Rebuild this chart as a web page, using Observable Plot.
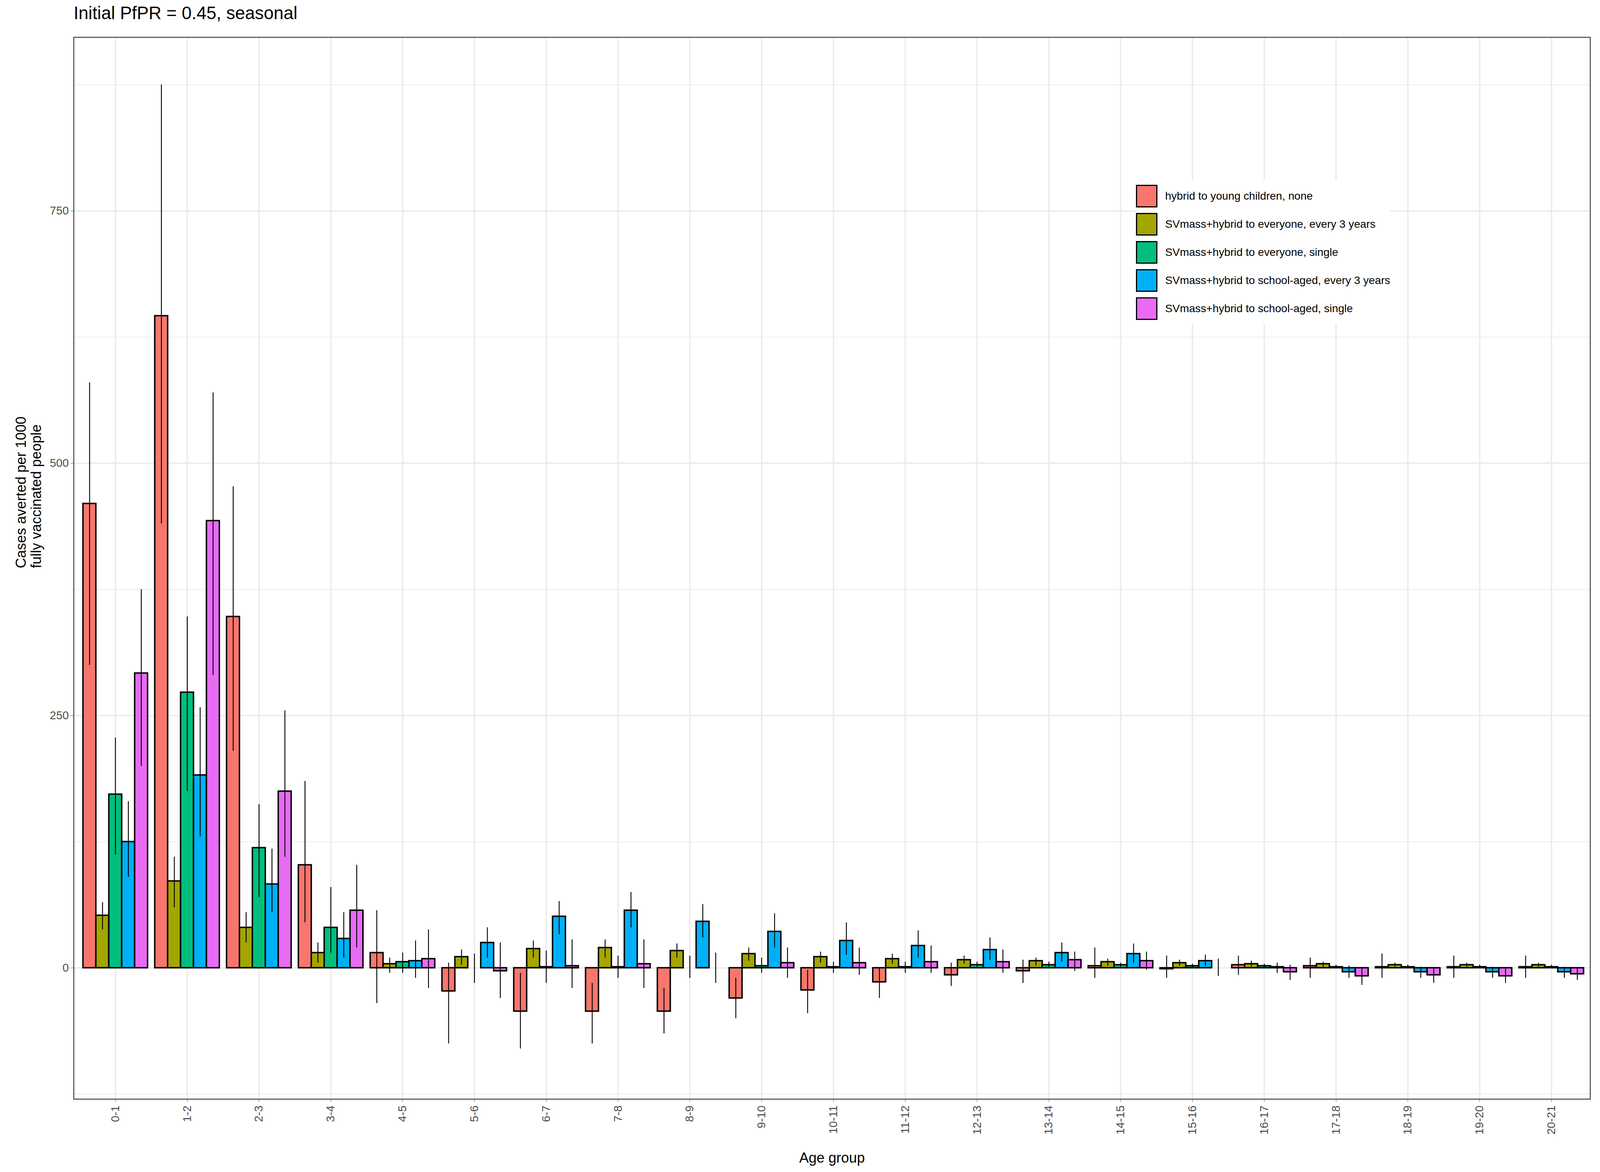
<!DOCTYPE html>
<html>
<head>
<meta charset="utf-8">
<script src="https://cdn.jsdelivr.net/npm/d3@7"></script>
<script src="https://cdn.jsdelivr.net/npm/@observablehq/plot@0.6"></script>
<style>
html, body {margin: 0; background: white; font-family: "Liberation Sans", Arial, sans-serif; overflow: hidden;}
#wrap {position: relative;}
#title {position: absolute;}
#chart {position: absolute; left: 0;}
#legend {position: absolute; background: white;}
.item {display: flex; align-items: center;}
.sw {border-style: solid; border-color: black; box-sizing: border-box;}
</style>
</head>
<body>
<div id="wrap">
<div id="title">Initial PfPR = 0.45, seasonal</div>
<div id="chart"></div>
<div id="legend"></div>
</div>
<script>
// data
const ages = ['0-1','1-2','2-3','3-4','4-5','5-6','6-7','7-8','8-9','9-10','10-11','11-12','12-13','13-14','14-15','15-16','16-17','17-18','18-19','19-20','20-21'];
const series = [
	'hybrid to young children, none',
	'SVmass+hybrid to everyone, every 3 years',
	'SVmass+hybrid to everyone, single',
	'SVmass+hybrid to school-aged, every 3 years',
	'SVmass+hybrid to school-aged, single'
];
const colors = ['#F8766D', '#A3A500', '#00BF7D', '#00B0F6', '#E76BF3'];

// [value, low, high] per age group
const young = [[460,300,580],[646,440,875],[348,215,477],[102,45,185],[15,-35,57],[-23,-75,5],[-43,-80,-5],[-43,-75,-15],[-43,-65,-20],[-30,-50,-10],[-22,-45,-2],[-14,-30,0],[-7,-18,5],[-3,-15,8],[2,-10,20],[-1,-10,12],[3,-7,12],[2,-10,10],[1,-10,14],[1,-10,12],[1,-10,12]];
const every3 = [[52,38,65],[86,60,110],[40,25,55],[15,5,25],[4,-5,10],[11,3,18],[19,10,27],[20,10,28],[17,10,24],[14,7,20],[11,5,16],[9,4,14],[8,4,12],[7,2,10],[6,2,9],[5,2,8],[4,1,7],[4,1,6],[3,1,5],[3,1,5],[3,1,5]];
const everySingle = [[172,112,228],[273,175,348],[119,70,162],[40,15,80],[6,-5,15],[0,-15,14],[1,-15,17],[1,-10,12],[0,-10,12],[2,-5,10],[1,-5,6],[1,-5,6],[3,0,6],[3,0,6],[3,0,5],[2,0,4],[2,0,4],[1,0,3],[1,0,3],[1,0,3],[1,0,3]];
const school3 = [[125,90,165],[191,130,258],[83,55,118],[29,10,55],[7,-10,27],[25,10,40],[51,33,66],[57,40,75],[46,30,63],[36,20,54],[27,13,45],[22,10,37],[18,8,30],[15,6,25],[14,5,24],[7,2,13],[1,-5,5],[-4,-10,2],[-4,-10,1],[-4,-10,1],[-4,-10,1]];
const schoolSingle = [[292,200,375],[443,290,570],[175,110,255],[57,20,102],[9,-20,38],[-3,-30,25],[2,-20,28],[4,-20,28],[0,-15,15],[5,-10,20],[5,-7,20],[6,-5,22],[6,-5,18],[8,-3,16],[7,-2,16],[0,-8,9],[-4,-12,3],[-8,-17,0],[-7,-15,0],[-8,-15,-1],[-6,-12,0]];

const allSeries = [young, every3, everySingle, school3, schoolSingle];
const bw = 0.18;
let data = [];
allSeries.forEach((s, k) => s.forEach(([v, lo, hi], i) => {
	const x1 = i - 0.45 + k * bw;
	data.push({series: series[k], x1, x2: x1 + bw, xc: x1 + bw / 2, v, lo, hi});
}));

// layout, scaled to the actual viewport
const W = document.documentElement.clientWidth || 4500;
const H = document.documentElement.clientHeight || 3000;
const sx = W / 4500, sy = H / 3000, s = Math.min(sx, sy);
const wrap = document.querySelector('#wrap');
wrap.style.width = W + 'px';
wrap.style.height = H + 'px';
const title = document.querySelector('#title');
title.style.left = (207 * sx) + 'px';
title.style.top = (8 * sy) + 'px';
title.style.fontSize = (50 * s) + 'px';
const top0 = 60 * sy;
document.querySelector('#chart').style.top = top0 + 'px';

// plot
const font = '"Liberation Sans", Arial, sans-serif';
let fig = Plot.plot({
	width: W,
	height: H - top0,
	marginLeft: 207 * sx,
	marginRight: 28 * sx,
	marginTop: 35 * sy,
	marginBottom: 187 * sy,
	style: {fontFamily: font, fontSize: (32 * s) + 'px', color: '#4d4d4d'},
	x: {domain: [-0.58, 20.54]},
	y: {domain: [-130, 922]},
	color: {domain: series, range: colors},
	marks: [
		Plot.gridY([-125, 125, 375, 625, 875], {stroke: '#ebebeb', strokeOpacity: 1, strokeWidth: 2 * s}),
		Plot.gridY([0, 250, 500, 750], {stroke: '#ebebeb', strokeOpacity: 1, strokeWidth: 4 * s}),
		Plot.gridX(d3.range(ages.length), {stroke: '#ebebeb', strokeOpacity: 1, strokeWidth: 4 * s}),
		Plot.rectY(data, {x1: 'x1', x2: 'x2', y1: 0, y2: 'v', fill: 'series', stroke: 'black', strokeWidth: 4 * s}),
		Plot.ruleX(data, {x: 'xc', y1: 'lo', y2: 'hi', stroke: 'black', strokeWidth: 2.5 * s}),
		Plot.frame({stroke: '#333333', strokeWidth: 2.5 * s}),
		Plot.axisY({ticks: [0, 250, 500, 750], label: null, tickSize: 8 * s, tickPadding: 6 * s, fontSize: 32 * s}),
		Plot.axisX({ticks: d3.range(ages.length), tickFormat: i => ages[i], label: null, tickRotate: -90, tickSize: 8 * s, tickPadding: 10 * s, fontSize: 32 * s}),
		Plot.text(['Age group'], {frameAnchor: 'bottom', dy: 162 * sy, text: d => d, fontSize: 40 * s, fill: 'black'}),
		Plot.text(['Cases averted per 1000\nfully vaccinated people'], {frameAnchor: 'left', dx: -127 * sx, rotate: -90, text: d => d, fontSize: 40 * s, fill: 'black', lineHeight: 1.05})
	]
});
document.querySelector('#chart').append(fig);

// legend
const legend = document.querySelector('#legend');
legend.style.left = (3195 * sx) + 'px';
legend.style.top = (462 * sy) + 'px';
legend.style.padding = (4 * s) + 'px 0';
series.forEach((name, k) => {
	const item = document.createElement('div');
	item.className = 'item';
	item.style.height = (72 * sy) + 'px';
	item.style.fontSize = (31 * s) + 'px';
	item.innerHTML = `<div class="sw" style="background:${colors[k]};width:${60 * s}px;height:${64 * s}px;border-width:${4 * s}px;margin-right:${22 * s}px"></div><span>${name}</span>`;
	legend.append(item);
});
</script>
</body>
</html>
